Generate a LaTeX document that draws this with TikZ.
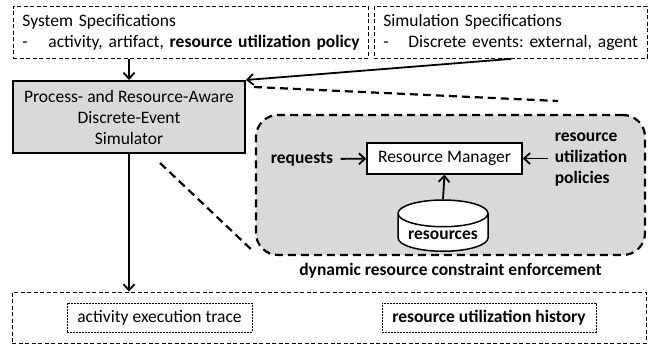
\documentclass[tikz,border=0pt]{standalone}
\usepackage{fontspec}
\setmainfont{Carlito}
\usetikzlibrary{arrows.meta,calc,positioning,shapes.geometric}
\definecolor{boxgray}{RGB}{217,217,217}
\newcommand{\bodyfont}{\fontsize{17.5}{21}\selectfont\frenchspacing}
\tikzset{
  specbox/.style={rectangle,draw,line width=0.9pt,dash pattern=on 4pt off 2.5pt,
    align=left,inner xsep=9pt,inner ysep=0pt},
  simbox/.style={rectangle,draw,line width=2pt,fill=boxgray,align=center},
  zoombox/.style={rectangle,rounded corners=22pt,draw,fill=boxgray,
    line width=2.2pt,dash pattern=on 8pt off 5pt},
  zoomline/.style={line width=2.2pt,dash pattern=on 8pt off 5pt},
  rmbox/.style={rectangle,draw,fill=white,line width=1.5pt},
  store/.style={cylinder,shape border rotate=90,draw,fill=white,line width=1.5pt},
  outbox/.style={rectangle,draw,line width=0.9pt,dash pattern=on 4pt off 2.5pt},
  subbox/.style={rectangle,draw,line width=0.8pt,dash pattern=on 2pt off 1pt},
  boldlab/.style={font=\bodyfont\bfseries},
  arr/.style={-{Straight Barb[length=6pt,width=11pt]},line width=1.8pt}
}

\begin{document}
\begin{tikzpicture}[x=1pt,y=-1pt,font=\bodyfont]
\useasboundingbox (0,0) rectangle (656,345);
% ---------------- specifications ----------------
\node[specbox,text width=337pt,minimum height=52pt,anchor=north west] (sysspec) at (13,6)
  {System Specifications\\\mbox{\makebox[26pt][l]{-}activity, artifact, \textbf{resource utilization policy}}};
\node[specbox,text width=255pt,minimum height=52pt,anchor=north west] (simspec) at (374,6)
  {Simulation Specifications\\\mbox{\makebox[25pt][l]{-}Discrete events: external, agent}};
% ---------------- simulator ----------------
\node[simbox,minimum width=232pt,minimum height=72pt] (sim) at (129,117)
  {Process- and Resource-Aware\\Discrete-Event\\Simulator};
\draw[arr] (sysspec.south -| sim.north) -- (sim.north);
\draw[arr] (simspec.south) -- (sim.north east);
% ---------------- zoom on resource handling ----------------
\node[zoombox,minimum width=389pt,minimum height=140pt] (zoom) at (450.5,185) {};
\node[boldlab,below=4pt of zoom] (zoomlab) {dynamic resource constraint enforcement};
\coordinate (z1) at (558,101);
\coordinate (z2) at (160,163);
\draw[zoomline] ($(sim.north east)+(8,7)$) -- (z1);
\draw[zoomline] (z2) -- ($(zoom.south west)+(-4,-7)$);
\node[rmbox,minimum width=155pt,minimum height=31pt] (rm) at (444.5,158.5) {Resource Manager};
\node[boldlab] (req) at (302,159) {requests};
\node[boldlab,align=left] (pol) at (591,160) {resource\\utilization\\policies};
\node[store,minimum width=90pt,minimum height=50pt,aspect=0.35,anchor=south] (res) at (443,252)
  {\textbf{resources}};
\draw[arr,shorten <=4pt] (req) -- (rm);
\draw[arr,shorten <=3pt] (pol.west |- rm.east) -- (rm.east);
\draw[arr] (res.north) -- (rm.south);
% ---------------- output ----------------
\node[outbox,minimum width=634pt,minimum height=51pt] (out) at (329,317.5) {};
\node[subbox,minimum width=185pt,minimum height=29pt] (trace) at (159.5,317.5)
  {activity execution trace};
\node[subbox,minimum width=214pt,minimum height=29pt] (hist) at (489,317.5)
  {\textbf{resource utilization history}};
\draw[arr] (sim.south) -- (sim.south |- out.north);
\end{tikzpicture}
\end{document}
